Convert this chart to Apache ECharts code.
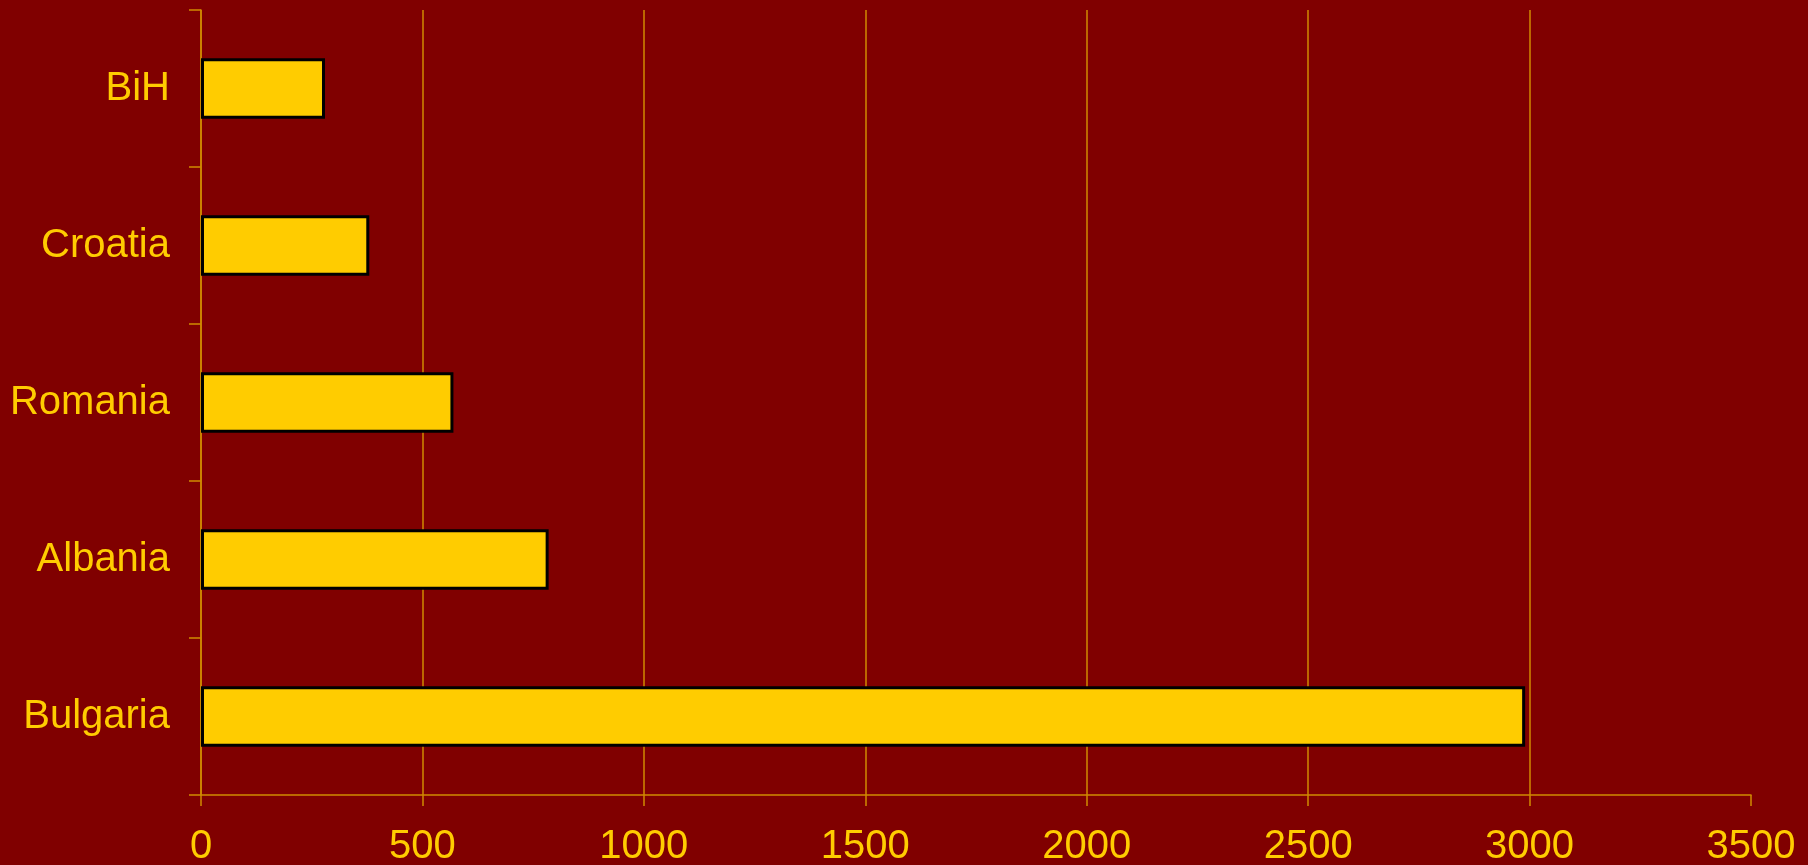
<!DOCTYPE html>
<html><head><meta charset="utf-8">
<script src="https://cdn.jsdelivr.net/npm/echarts@6/dist/echarts.min.js"></script>
<style>html,body{margin:0;padding:0;background:#800000;}#c{width:1808px;height:865px;}</style>
</head><body><div id="c"></div>
<script>
const categories = ["BiH", "Croatia", "Romania", "Albania", "Bulgaria"];
const values = [280, 380, 570, 785, 2990];
const xTicks = [0, 500, 1000, 1500, 2000, 2500, 3000, 3500];

const lineColor = '#D08A00';
const textColor = '#FFCC00';
const chart = echarts.init(document.getElementById('c'));
chart.setOption({
  backgroundColor: '#800000',
  animation: false,
  grid: { left: 201, top: 10, right: 57, bottom: 70, containLabel: false, outerBoundsMode: 'none' },
  xAxis: {
    type: 'value', min: xTicks[0], max: xTicks[xTicks.length - 1], interval: 500,
    axisLine: { show: true, lineStyle: { color: lineColor, width: 1.5 } },
    axisTick: { show: true, length: 11, lineStyle: { color: lineColor, width: 1.5 } },
    splitLine: { show: true, showMaxLine: false, lineStyle: { color: lineColor, width: 1.5 } },
    axisLabel: { color: textColor, fontSize: 40, fontFamily: 'Liberation Sans, Arial, sans-serif', margin: 32,
      formatter: v => String(v) }
  },
  yAxis: {
    type: 'category', data: categories, inverse: true,
    axisLine: { show: true, lineStyle: { color: lineColor, width: 1.5 } },
    axisTick: { show: true, length: 12, lineStyle: { color: lineColor, width: 1.5 } },
    splitLine: { show: false },
    axisLabel: { color: textColor, fontSize: 40, fontFamily: 'Liberation Sans, Arial, sans-serif', margin: 31 }
  },
  series: [{
    type: 'bar', data: values, barWidth: '38.5%',
    itemStyle: { color: '#FFCC00', borderColor: '#000000', borderWidth: 3 }
  }]
});
</script></body></html>
